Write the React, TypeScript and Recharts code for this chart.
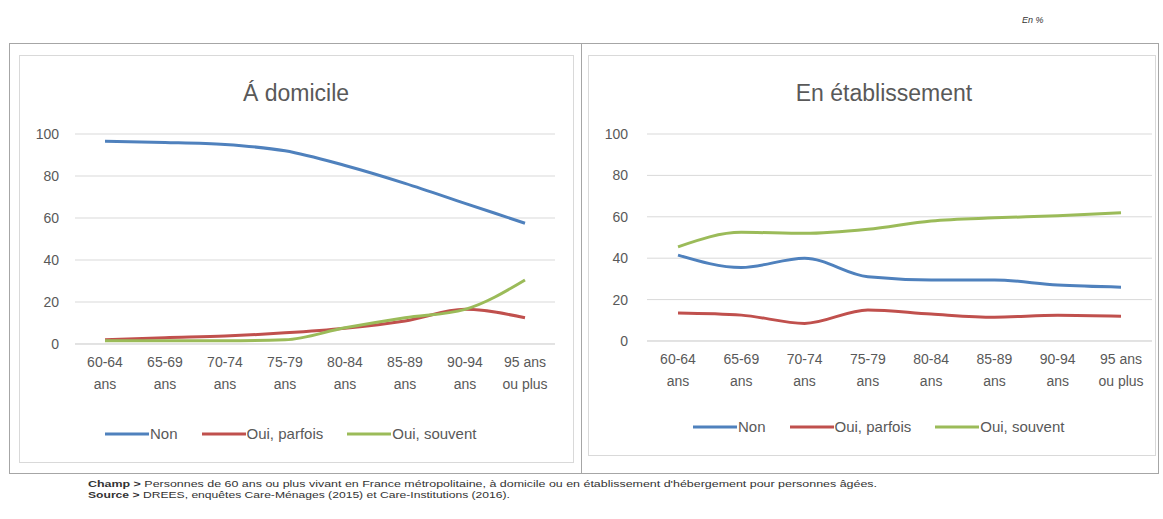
import { CartesianGrid, Legend, Line, LineChart, XAxis, YAxis } from 'recharts'

const ageGroups = [
  '60-64\nans',
  '65-69\nans',
  '70-74\nans',
  '75-79\nans',
  '80-84\nans',
  '85-89\nans',
  '90-94\nans',
  '95 ans\nou plus'
]

// À domicile
const homeNon = [96.5, 96, 95, 92, 85, 76.5, 67, 57.5]
const homeParfois = [2, 3, 3.8, 5.3, 7.5, 11, 16.5, 12.5]
const homeSouvent = [1.5, 1.5, 1.5, 2, 7.7, 12.5, 16.5, 30.5]

// En établissement
const instNon = [41.5, 35.5, 40, 31, 29.5, 29.5, 27, 26]
const instParfois = [13.5, 12.5, 8.5, 15, 13, 11.5, 12.5, 12]
const instSouvent = [45.5, 52.5, 52, 54, 58, 59.5, 60.5, 62]

const seriesNames = ['Non', 'Oui, parfois', 'Oui, souvent']
const seriesColors = ['#4F81BD', '#C0504D', '#9BBB59']
const yTicks = [0, 20, 40, 60, 80, 100]

const buildRows = (non: number[], parfois: number[], souvent: number[]) =>
  ageGroups.map((age, i) => ({ age, non: non[i], parfois: parfois[i], souvent: souvent[i] }))

const homeRows = buildRows(homeNon, homeParfois, homeSouvent)
const instRows = buildRows(instNon, instParfois, instSouvent)

const grey = '#595959'

const AgeTick = ({ x, y, payload }: any) => {
  const lines = String(payload.value).split('\n')
  return (
    <text x={x} y={y} textAnchor='middle' fill={grey} fontSize={14}>
      {lines.map((l, i) => (
        <tspan key={i} x={x} dy={i === 0 ? 15 : 22}>
          {l}
        </tspan>
      ))}
    </text>
  )
}

const LegendRow = ({ payload }: any) => (
  <div style={{ display: 'flex', alignItems: 'center', gap: 24 }}>
    {(payload || []).map((p: any) => (
      <div key={p.value} style={{ display: 'flex', alignItems: 'center' }}>
        <svg width={44} height={10}>
          <line x1={0} y1={5} x2={44} y2={5} stroke={p.color} strokeWidth={3} />
        </svg>
        <span style={{ fontSize: 15, color: grey, marginLeft: 1 }}>{p.value}</span>
      </div>
    ))}
  </div>
)

type PanelProps = {
  title: string
  rows: any[]
  left: number
  top: number
  width: number
  height: number
  plotLeft: number
  plotRight: number
  plotTop: number
  plotBottom: number
  pad: number
  legendLeft: number
  titleCenter: number
  yShift: number
}

const Panel = (p: PanelProps) => (
  <>
    <div
      style={{
        position: 'absolute',
        left: p.titleCenter - 150,
        top: 80,
        width: 300,
        textAlign: 'center',
        fontSize: 23,
        lineHeight: '26px',
        color: grey
      }}
    >
      {p.title}
    </div>
    <div style={{ position: 'absolute', left: p.left, top: p.top }}>
      <LineChart
        width={p.width}
        height={p.height}
        data={p.rows}
        margin={{ top: p.plotTop, right: p.plotRight, left: p.plotLeft - 40, bottom: 20 }}
      >
        <CartesianGrid vertical={false} stroke='#d9d9d9' />
        <XAxis
          dataKey='age'
          interval={0}
          tickLine={false}
          axisLine={{ stroke: '#d9d9d9' }}
          tick={<AgeTick />}
          padding={{ left: p.pad, right: p.pad }}
          height={p.height - p.plotBottom - 40}
        />
        <YAxis
          width={40}
          domain={[0, 100]}
          ticks={yTicks}
          axisLine={false}
          tickLine={false}
          tick={{ fill: grey, fontSize: 14, dx: p.yShift }}
        />
        <Legend
          verticalAlign='bottom'
          content={<LegendRow />}
          wrapperStyle={{ left: p.legendLeft, width: 'auto' }}
        />
        <Line dataKey='non' name={seriesNames[0]} stroke={seriesColors[0]} strokeWidth={3} dot={false} type='monotone' isAnimationActive={false} />
        <Line dataKey='parfois' name={seriesNames[1]} stroke={seriesColors[1]} strokeWidth={3} dot={false} type='monotone' isAnimationActive={false} />
        <Line dataKey='souvent' name={seriesNames[2]} stroke={seriesColors[2]} strokeWidth={3} dot={false} type='monotone' isAnimationActive={false} />
      </LineChart>
    </div>
  </>
)

export default function App() {
  return (
    <div
      style={{
        position: 'absolute',
        left: 0,
        top: 0,
        width: 1163,
        height: 519,
        background: '#fff',
        fontFamily: "'Liberation Sans', Arial, sans-serif",
        overflow: 'hidden'
      }}
    >
      <div style={{ position: 'absolute', left: 1022, top: 15, fontSize: 9, fontStyle: 'italic', color: '#333' }}>
        En %
      </div>
      {/* outer frame + divider */}
      <div style={{ position: 'absolute', left: 9, top: 43, width: 1148, height: 429, border: '1px solid #a6a6a6' }} />
      <div style={{ position: 'absolute', left: 581, top: 43, width: 1, height: 430, background: '#a6a6a6' }} />
      {/* inner chart areas */}
      <div style={{ position: 'absolute', left: 19, top: 55, width: 553, height: 406, border: '1px solid #d9d9d9' }} />
      <div style={{ position: 'absolute', left: 588, top: 55, width: 566, height: 399, border: '1px solid #d9d9d9' }} />

      <Panel
        title='Á domicile'
        rows={homeRows}
        left={19}
        top={55}
        width={554}
        height={407}
        plotLeft={56}
        plotRight={18}
        plotTop={79}
        plotBottom={286}
        pad={30}
        legendLeft={86}
        titleCenter={296}
        yShift={-8}
      />
      <Panel
        title='En établissement'
        rows={instRows}
        left={588}
        top={55}
        width={567}
        height={400}
        plotLeft={59}
        plotRight={3}
        plotTop={79}
        plotBottom={283}
        pad={31}
        legendLeft={105}
        titleCenter={884}
        yShift={-11}
      />

      <svg style={{ position: 'absolute', left: 0, top: 475 }} width={1163} height={30}>
        <text x={88} y={12} fontSize={9} fill='#333' textLength={789} lengthAdjust='spacingAndGlyphs'>
          <tspan fontWeight='bold'>Champ &gt;</tspan> Personnes de 60 ans ou plus vivant en France métropolitaine, à domicile ou en établissement d'hébergement pour personnes âgées.
        </text>
        <text x={88} y={23} fontSize={9} fill='#333' textLength={422} lengthAdjust='spacingAndGlyphs'>
          <tspan fontWeight='bold'>Source &gt;</tspan> DREES, enquêtes Care-Ménages (2015) et Care-Institutions (2016).
        </text>
      </svg>
    </div>
  )
}
